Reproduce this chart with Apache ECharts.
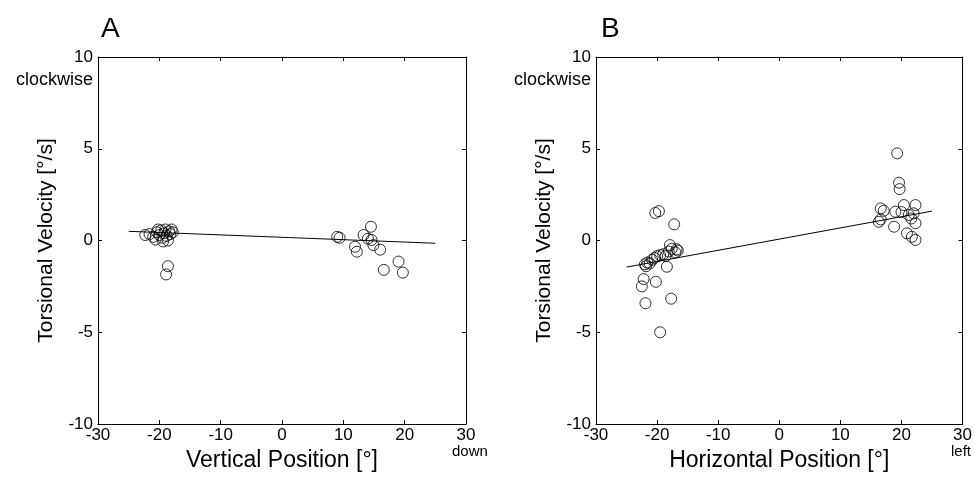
<!DOCTYPE html>
<html><head><meta charset="utf-8">
<script src="https://cdn.jsdelivr.net/npm/echarts@6/dist/echarts.min.js"></script>
<style>html,body{margin:0;padding:0;background:#fff}#c{width:975px;height:478px}</style>
</head><body><div id="c"></div>
<script>
const xTicks = [-30,-20,-10,0,10,20,30];
const yTicks = [-10,-5,0,5,10];
const posA = [-22.3,-21.6,-21.0,-20.6,-20.4,-20.0,-19.7,-19.5,-19.2,-19.0,-18.8,-18.6,-18.4,-18.2,-18.0,-17.8,-20.2,-19.4,-18.6,-18.9,
  9.0,9.4,11.9,12.2,13.3,14.5,14.6,14.0,14.9,16.0,19.0,16.6,19.7];
const velA = [0.3,0.35,0.2,0.05,0.45,0.3,0.55,0.15,0.4,0.6,0.25,0.0,0.5,0.35,0.6,0.45,0.6,-0.05,-1.4,-1.85,
  0.2,0.15,-0.34,-0.61,0.3,0.75,0.03,0.1,-0.25,-0.5,-1.15,-1.6,-1.75];
const posB = [-20.3,-19.7,-17.2,-17.9,-16.8,-18.4,-22.2,-22.5,-20.2,-21.9,-17.7,-19.5,
  -22.0,-21.6,-21.2,-20.8,-20.4,-20.0,-19.5,-19.0,-18.6,-18.1,-17.6,-17.0,-16.6,-21.8,
  19.3,19.6,19.7,16.6,17.1,16.3,16.6,19.0,20.4,21.2,22.3,22.0,22.3,18.8,20.9,22.3,21.7,20.0,21.6];
const velB = [1.5,1.6,0.88,-0.25,-0.48,-1.43,-2.1,-2.5,-2.25,-3.42,-3.17,-5.0,
  -1.3,-1.2,-1.25,-1.05,-0.95,-0.85,-0.8,-0.75,-0.85,-0.6,-0.45,-0.65,-0.55,-1.4,
  4.75,3.15,2.8,1.75,1.62,1.02,1.15,1.57,1.93,1.39,1.93,1.48,0.94,0.75,0.39,0.03,0.2,1.55,1.2];
const fitA_x = [-25,25], fitA_y = [0.5,-0.15];
const fitB_x = [-25,25], fitB_y = [-1.45,1.6];

const FONT = 'Liberation Sans';
const axisLine = {show:true, onZero:false, lineStyle:{color:'#000', width:1}};
function xAx(grid, name, pos){
  const top = pos === 'top';
  return {type:'value', gridIndex:grid, position:pos, min:xTicks[0], max:xTicks[xTicks.length-1], interval:10,
    axisLine, axisTick:{show:true, inside:true, length:4, lineStyle:{color:'#000'}},
    splitLine:{show:false},
    axisLabel:{show:!top, margin:3, fontSize:17, color:'#000', fontFamily:FONT},
    name: top ? '' : name, nameLocation:'middle', nameGap:25,
    nameTextStyle:{fontSize:23, color:'#000', fontFamily:FONT}};
}
function yAx(grid, pos){
  const right = pos === 'right';
  return {type:'value', gridIndex:grid, position:pos, min:yTicks[0], max:yTicks[yTicks.length-1], interval:5,
    axisLine, axisTick:{show:true, inside:true, length:4, lineStyle:{color:'#000'}},
    splitLine:{show:false},
    axisLabel:{show:!right, margin:5, fontSize:17, color:'#000', fontFamily:FONT},
    name: right ? '' : 'Torsional Velocity [°/s]', nameLocation:'middle', nameGap:41,
    nameTextStyle:{fontSize:21, color:'#000', fontFamily:FONT}};
}
function pts(xs, ys){ return xs.map((x,i)=>[x, ys[i]]); }
const scatterStyle = {color:'rgba(0,0,0,0)', borderColor:'#000', borderWidth:1};

const chart = echarts.init(document.getElementById('c'), null, {renderer:'canvas'});
chart.setOption({
  backgroundColor:'#fff',
  animation:false,
  grid:[
    {left:98, top:57, width:368, height:367},
    {left:596, top:57, width:368, height:367}
  ],
  xAxis:[xAx(0,'Vertical Position [°]','bottom'), xAx(0,'','top'),
         xAx(1,'Horizontal Position [°]','bottom'), xAx(1,'','top')],
  yAxis:[yAx(0,'left'), yAx(0,'right'), yAx(1,'left'), yAx(1,'right')],
  title:[
    {text:'A', left:96, top:10, textStyle:{fontSize:28, fontWeight:'normal', color:'#000', fontFamily:FONT}},
    {text:'B', left:596, top:10, textStyle:{fontSize:28, fontWeight:'normal', color:'#000', fontFamily:FONT}}
  ],
  graphic:[
    {type:'text', right:975-93, top:71, style:{text:'clockwise', fontSize:18, fill:'#000', fontFamily:FONT}},
    {type:'text', right:975-591, top:71, style:{text:'clockwise', fontSize:18, fill:'#000', fontFamily:FONT}},
    {type:'text', left:452, top:444, style:{text:'down', fontSize:15, fill:'#000', fontFamily:FONT}},
    {type:'text', left:951, top:444, style:{text:'left', fontSize:15, fill:'#000', fontFamily:FONT}}
  ],
  series:[
    {type:'scatter', xAxisIndex:0, yAxisIndex:0, data:pts(posA, velA), symbol:'circle', symbolSize:11, itemStyle:scatterStyle},
    {type:'line', xAxisIndex:0, yAxisIndex:0, data:pts(fitA_x, fitA_y), symbol:'none', lineStyle:{color:'#000', width:1}},
    {type:'scatter', xAxisIndex:2, yAxisIndex:2, data:pts(posB, velB), symbol:'circle', symbolSize:11, itemStyle:scatterStyle},
    {type:'line', xAxisIndex:2, yAxisIndex:2, data:pts(fitB_x, fitB_y), symbol:'none', lineStyle:{color:'#000', width:1}}
  ]
});
</script></body></html>
